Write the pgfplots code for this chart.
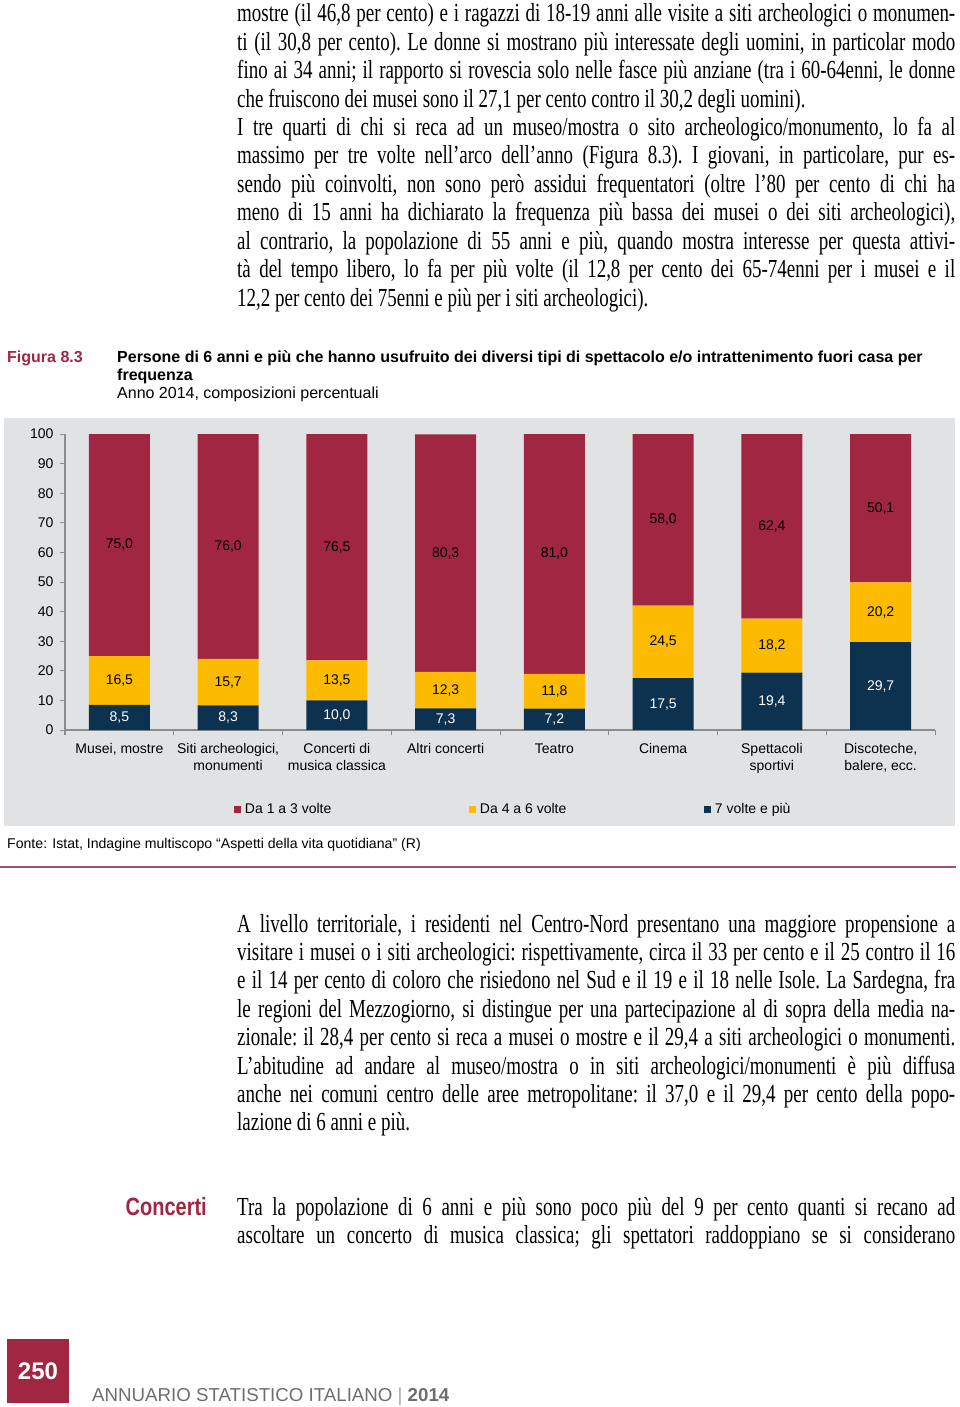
\documentclass[border=0pt]{standalone}
\usepackage{fontspec}
\usepackage{pgfplots}
\pgfplotsset{compat=1.18}
\usepackage{pgfplotstable}
\setmainfont{Liberation Sans}
\newfontfamily\bodyserif[FakeStretch=0.73]{Liberation Serif}
\newfontfamily\condsans[FakeStretch=0.8]{Liberation Sans}
\definecolor{burg}{RGB}{160,38,65}
\definecolor{gold}{RGB}{252,187,0}
\definecolor{navy}{RGB}{13,50,80}
\definecolor{panel}{RGB}{225,226,228}
\definecolor{axgray}{RGB}{140,140,140}
\definecolor{rulec}{RGB}{158,82,110}
\definecolor{footgray}{RGB}{110,110,110}
\pgfplotstableread{
x n g r
0 8.5 16.5 75.0
1 8.3 15.7 76.0
2 10.0 13.5 76.5
3 7.3 12.3 80.3
4 7.2 11.8 81.0
5 17.5 24.5 58.0
6 19.4 18.2 62.4
7 29.7 20.2 50.1
}\datatable
\newcommand{\jline}[2]{\node[anchor=base west,inner sep=0pt] at (237,-#1) {\bodyserif\frenchspacing\fontsize{26}{28}\selectfont\makebox[718pt][s]{#2}};}
\newcommand{\lline}[2]{\node[anchor=base west,inner sep=0pt] at (237,-#1) {\bodyserif\frenchspacing\fontsize{26}{28}\selectfont #2};}
\begin{document}
\begin{tikzpicture}[x=1pt,y=1pt]
\path[use as bounding box, fill=white] (0,0) rectangle (960,-1407);
% top text
\jline{22}{mostre (il 46,8 per cento) e i ragazzi di 18-19 anni alle visite a siti archeologici o monumen-}
\jline{50.4}{ti (il 30,8 per cento). Le donne si mostrano più interessate degli uomini, in particolar modo}
\jline{78.8}{fino ai 34 anni; il rapporto si rovescia solo nelle fasce più anziane (tra i 60-64enni, le donne}
\lline{107.2}{che fruiscono dei musei sono il 27,1 per cento contro il 30,2 degli uomini).}
\jline{135.6}{I tre quarti di chi si reca ad un museo/mostra o sito archeologico/monumento, lo fa al}
\jline{164}{massimo per tre volte nell’arco dell’anno (Figura 8.3). I giovani, in particolare, pur es-}
\jline{192.4}{sendo più coinvolti, non sono però assidui frequentatori (oltre l’80 per cento di chi ha}
\jline{220.8}{meno di 15 anni ha dichiarato la frequenza più bassa dei musei o dei siti archeologici),}
\jline{249.2}{al contrario, la popolazione di 55 anni e più, quando mostra interesse per questa attivi-}
\jline{277.6}{tà del tempo libero, lo fa per più volte (il 12,8 per cento dei 65-74enni per i musei e il}
\lline{306}{12,2 per cento dei 75enni e più per i siti archeologici).}
% figure header
\node[anchor=base west,inner sep=0pt,text=burg] at (7,-362.5) {\bfseries\fontsize{16}{18}\selectfont Figura 8.3};
\node[anchor=base west,inner sep=0pt] at (117,-362.5) {\bfseries\fontsize{16}{18}\selectfont Persone di 6 anni e più che hanno usufruito dei diversi tipi di spettacolo e/o intrattenimento fuori casa per};
\node[anchor=base west,inner sep=0pt] at (117,-380.5) {\bfseries\fontsize{16}{18}\selectfont frequenza};
\node[anchor=base west,inner sep=0pt] at (117,-398.5) {\fontsize{16}{18}\selectfont Anno 2014, composizioni percentuali};
% panel
\fill[panel] (4,-418) rectangle (955,-826);
\begin{axis}[
  at={(65pt,-730pt)}, anchor=south west,
  scale only axis, width=870pt, height=296pt,
  xmin=-0.5, xmax=7.5, ymin=0, ymax=100,
  ybar stacked, bar width=0.56,
  axis x line*=bottom, axis y line*=left,
  axis line style={draw=axgray, line width=1.3pt, -},
  ytick={0,10,...,100},
  xtick={0,...,7},
  xticklabels={{Musei, mostre},{Siti archeologici,\\monumenti},{Concerti di\\musica classica},{Altri concerti},{Teatro},{Cinema},{Spettacoli\\sportivi},{Discoteche,\\balere, ecc.}},
  xticklabel style={align=center, font=\fontsize{14}{17}\selectfont, yshift=-5pt},
  yticklabel style={font=\fontsize{14}{17}\selectfont, xshift=-3pt},
  /pgf/number format/assume math mode=true,
  tick align=outside,
  major tick length=5pt,
  tick style={draw=axgray, line width=1pt},
  x tick style={draw=none},
  extra x ticks={-0.5,0.5,1.5,2.5,3.5,4.5,5.5,6.5,7.5},
  extra x tick labels={},
  extra x tick style={x tick style={draw=axgray, line width=1pt}},
  legend style={at={(0.19425,-0.2669)}, anchor=west, draw=none, fill=none, inner sep=0pt, outer sep=0pt, legend columns=3, font=\fontsize{14}{16}\selectfont, /tikz/every odd column/.append style={column sep=2pt}},
  legend image code/.code={\path[#1, draw=none] (0pt,-3.5pt) rectangle (7pt,3.5pt);},
]
\addplot[fill=navy, draw=none, forget plot] table[x=x, y=n] {\datatable};
\addplot[fill=gold, draw=none, forget plot] table[x=x, y=g] {\datatable};
\addplot[fill=burg, draw=none, forget plot] table[x=x, y=r] {\datatable};
\addlegendimage{fill=burg}
\addlegendentry{\makebox[222pt][l]{Da 1 a 3 volte}}
\addlegendimage{fill=gold}
\addlegendentry{\makebox[222pt][l]{Da 4 a 6 volte}}
\addlegendimage{fill=navy}
\addlegendentry{\makebox[222pt][l]{7 volte e più}}
\end{axis}
\begin{axis}[
  at={(65pt,-730pt)}, anchor=south west,
  scale only axis, width=870pt, height=296pt,
  xmin=-0.5, xmax=7.5, ymin=0, ymax=100,
  hide axis,
  /pgf/number format/assume math mode=true,
  point meta=explicit,
  nodes near coords={\pgfmathprintnumber[fixed, fixed zerofill, precision=1, use comma]{\pgfplotspointmeta}},
  every node near coord/.append style={anchor=center, font=\fontsize{14}{16}\selectfont},
]
\addplot[draw=none, mark=none, every node near coord/.append style={text=white}] table[x=x, y expr=\thisrow{n}/2, meta=n] {\datatable};
\addplot[draw=none, mark=none, every node near coord/.append style={text=black}] table[x=x, y expr=\thisrow{n}+\thisrow{g}/2, meta=g] {\datatable};
\addplot[draw=none, mark=none, every node near coord/.append style={text=black}] table[x=x, y expr=\thisrow{n}+\thisrow{g}+\thisrow{r}/2, meta=r] {\datatable};
\end{axis}
% source and rule
\node[anchor=base west,inner sep=0pt] at (7,-848) {\fontsize{14.1}{16}\selectfont Fonte: Istat, Indagine multiscopo “Aspetti della vita quotidiana” (R)};
\draw[rulec, line width=2pt] (0,-867) -- (956,-867);
% bottom text
\jline{932}{A livello territoriale, i residenti nel Centro-Nord presentano una maggiore propensione a}
\jline{960.4}{visitare i musei o i siti archeologici: rispettivamente, circa il 33 per cento e il 25 contro il 16}
\jline{988.8}{e il 14 per cento di coloro che risiedono nel Sud e il 19 e il 18 nelle Isole. La Sardegna, fra}
\jline{1017.2}{le regioni del Mezzogiorno, si distingue per una partecipazione al di sopra della media na-}
\jline{1045.6}{zionale: il 28,4 per cento si reca a musei o mostre e il 29,4 a siti archeologici o monumenti.}
\jline{1074}{L’abitudine ad andare al museo/mostra o in siti archeologici/monumenti è più diffusa}
\jline{1102.4}{anche nei comuni centro delle aree metropolitane: il 37,0 e il 29,4 per cento della popo-}
\lline{1130.8}{lazione di 6 anni e più.}
\node[anchor=base east,inner sep=0pt,text=burg] at (207,-1215) {\condsans\bfseries\fontsize{25}{28}\selectfont Concerti};
\jline{1215}{Tra la popolazione di 6 anni e più sono poco più del 9 per cento quanti si recano ad}
\jline{1243.4}{ascoltare un concerto di musica classica; gli spettatori raddoppiano se si considerano}
% footer
\fill[burg] (7,-1339) rectangle (69,-1403);
\node[text=white, inner sep=0pt] at (38,-1371.5) {\bfseries\fontsize{24}{26}\selectfont 250};
\node[anchor=base west,inner sep=0pt,text=footgray] at (92,-1401) {\fontsize{18.7}{20}\selectfont ANNUARIO STATISTICO ITALIANO {\color{gray!70}|} \textbf{2014}};
\end{tikzpicture}
\end{document}
